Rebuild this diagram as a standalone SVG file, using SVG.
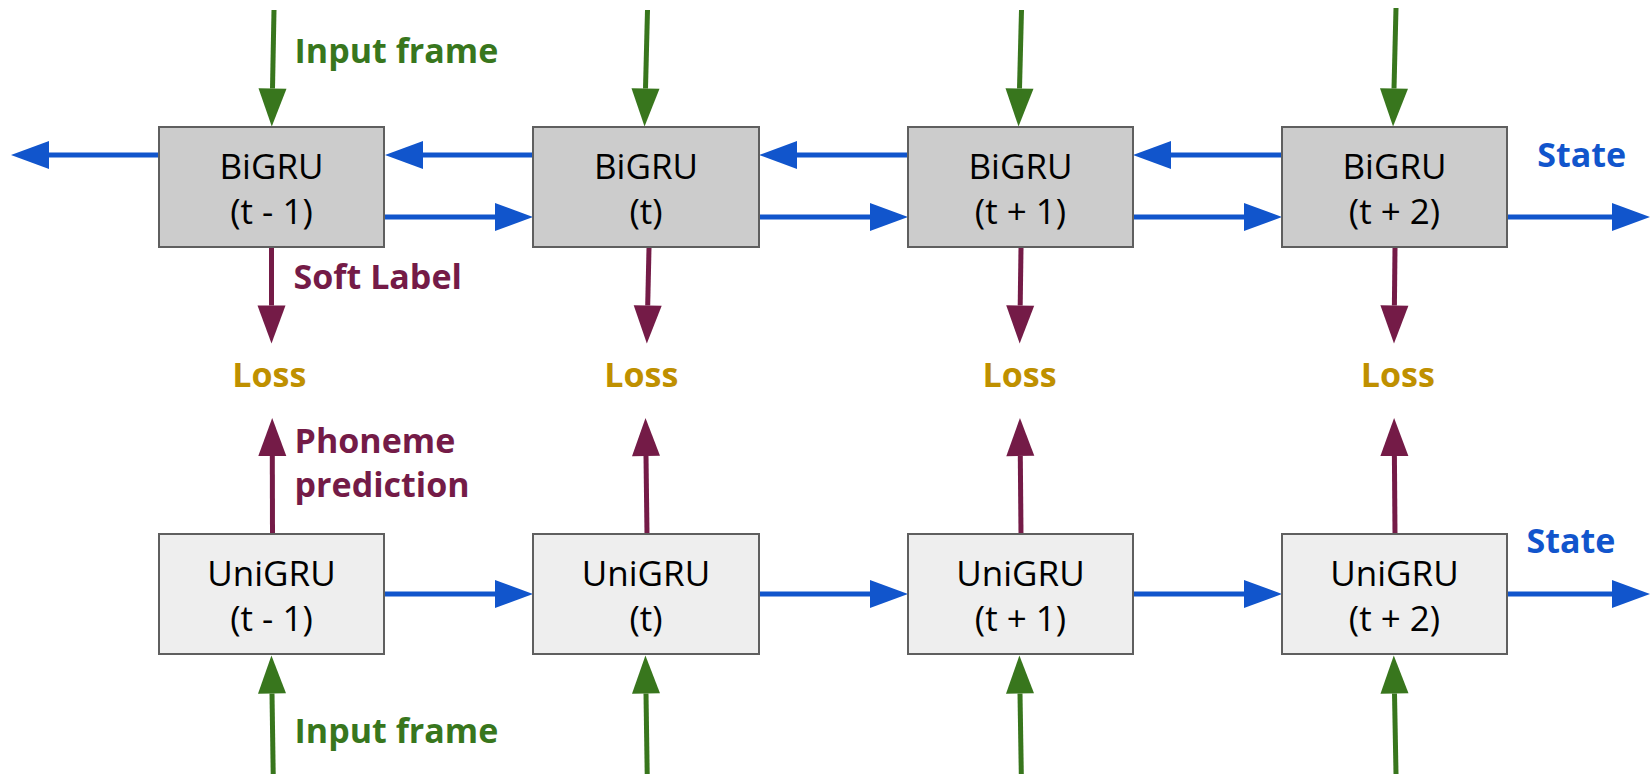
<svg xmlns="http://www.w3.org/2000/svg" width="1652" height="774" viewBox="0 0 1652 774">
  <style>
    .box-bi { fill: #cccccc; stroke: #5f5f5f; stroke-width: 2; }
    .box-uni { fill: #eeeeee; stroke: #5f5f5f; stroke-width: 2; }
    .cell { font-family: "Open Sans", "Noto Sans", sans-serif; font-size: 35px; fill: #000000; text-anchor: middle; }
    .lbl { font-family: "Open Sans", "Noto Sans", sans-serif; font-size: 34px; font-weight: bold; }
    .green { fill: #38761d; }
    .purple { fill: #741b47; }
    .blue { fill: #1155cc; }
    .gold { fill: #bf9000; }
    .ln-blue { stroke: #1155cc; stroke-width: 5; fill: none; marker-end: url(#ah-blue); }
    .ln-green { stroke: #38761d; stroke-width: 5; fill: none; marker-end: url(#ah-green); }
    .ln-purple { stroke: #741b47; stroke-width: 5; fill: none; marker-end: url(#ah-purple); }
  </style>
  <defs>
    <marker id="ah-blue" markerUnits="userSpaceOnUse" markerWidth="38" markerHeight="28" refX="0" refY="14" orient="auto" overflow="visible">
      <path d="M0,0 L38,14 L0,28 Z" fill="#1155cc"/>
    </marker>
    <marker id="ah-green" markerUnits="userSpaceOnUse" markerWidth="38" markerHeight="28" refX="0" refY="14" orient="auto" overflow="visible">
      <path d="M0,0 L38,14 L0,28 Z" fill="#38761d"/>
    </marker>
    <marker id="ah-purple" markerUnits="userSpaceOnUse" markerWidth="38" markerHeight="28" refX="0" refY="14" orient="auto" overflow="visible">
      <path d="M0,0 L38,14 L0,28 Z" fill="#741b47"/>
    </marker>
  </defs>

  <!-- connectors -->
  <g id="connectors">
    <!-- input frames into the BiGRU row -->
    <path class="ln-green" d="M274,10 L272.5,88.5"/>
    <path class="ln-green" d="M647.5,10 L645.5,88.5"/>
    <path class="ln-green" d="M1021.5,10 L1019.5,88.5"/>
    <path class="ln-green" d="M1396,8 L1394,88.5"/>
    <!-- backward state (right to left) -->
    <path class="ln-blue" d="M159,155 L49,155"/>
    <path class="ln-blue" d="M533,155 L423,155"/>
    <path class="ln-blue" d="M908,155 L797,155"/>
    <path class="ln-blue" d="M1282,155 L1171,155"/>
    <!-- forward state (left to right) -->
    <path class="ln-blue" d="M385,217 L495,217"/>
    <path class="ln-blue" d="M759,217 L870,217"/>
    <path class="ln-blue" d="M1133,217 L1244,217"/>
    <path class="ln-blue" d="M1507,217 L1612,217"/>
    <!-- soft labels down to the loss -->
    <path class="ln-purple" d="M271.5,248 L271.5,305.5"/>
    <path class="ln-purple" d="M649,248 L647.7,305.5"/>
    <path class="ln-purple" d="M1021,248 L1020.2,305.5"/>
    <path class="ln-purple" d="M1395,248 L1394.4,305.5"/>
    <!-- phoneme predictions up to the loss -->
    <path class="ln-purple" d="M272.5,534 L272.3,456"/>
    <path class="ln-purple" d="M647,534 L646,456"/>
    <path class="ln-purple" d="M1021,534 L1020.3,456"/>
    <path class="ln-purple" d="M1395,534 L1394.4,456"/>
    <!-- UniGRU forward state -->
    <path class="ln-blue" d="M385,594 L495,594"/>
    <path class="ln-blue" d="M759,594 L870,594"/>
    <path class="ln-blue" d="M1133,594 L1244,594"/>
    <path class="ln-blue" d="M1507,594 L1612,594"/>
    <!-- input frames into the UniGRU row -->
    <path class="ln-green" d="M273.2,774 L272,693.5"/>
    <path class="ln-green" d="M647.2,774 L646,693.5"/>
    <path class="ln-green" d="M1021.3,774 L1020,693.5"/>
    <path class="ln-green" d="M1396,774 L1394.5,693.5"/>
  </g>

  <!-- BiGRU row -->
  <g id="bigru-t-1">
    <rect class="box-bi" x="159" y="127" width="225" height="120"/>
    <text class="cell"><tspan x="271.5" y="178.5">BiGRU</tspan><tspan x="271.5" y="223.5">(t - 1)</tspan></text>
  </g>
  <g id="bigru-t">
    <rect class="box-bi" x="533" y="127" width="226" height="120"/>
    <text class="cell"><tspan x="646" y="178.5">BiGRU</tspan><tspan x="646" y="223.5">(t)</tspan></text>
  </g>
  <g id="bigru-t+1">
    <rect class="box-bi" x="908" y="127" width="225" height="120"/>
    <text class="cell"><tspan x="1020.5" y="178.5">BiGRU</tspan><tspan x="1020.5" y="223.5">(t + 1)</tspan></text>
  </g>
  <g id="bigru-t+2">
    <rect class="box-bi" x="1282" y="127" width="225" height="120"/>
    <text class="cell"><tspan x="1394.5" y="178.5">BiGRU</tspan><tspan x="1394.5" y="223.5">(t + 2)</tspan></text>
  </g>

  <!-- UniGRU row -->
  <g id="unigru-t-1">
    <rect class="box-uni" x="159" y="534" width="225" height="120"/>
    <text class="cell"><tspan x="271.5" y="585.5">UniGRU</tspan><tspan x="271.5" y="630.5">(t - 1)</tspan></text>
  </g>
  <g id="unigru-t">
    <rect class="box-uni" x="533" y="534" width="226" height="120"/>
    <text class="cell"><tspan x="646" y="585.5">UniGRU</tspan><tspan x="646" y="630.5">(t)</tspan></text>
  </g>
  <g id="unigru-t+1">
    <rect class="box-uni" x="908" y="534" width="225" height="120"/>
    <text class="cell"><tspan x="1020.5" y="585.5">UniGRU</tspan><tspan x="1020.5" y="630.5">(t + 1)</tspan></text>
  </g>
  <g id="unigru-t+2">
    <rect class="box-uni" x="1282" y="534" width="225" height="120"/>
    <text class="cell"><tspan x="1394.5" y="585.5">UniGRU</tspan><tspan x="1394.5" y="630.5">(t + 2)</tspan></text>
  </g>

  <!-- loss points -->
  <g id="loss-t-1"><text class="lbl gold" x="269.3" y="387" text-anchor="middle">Loss</text></g>
  <g id="loss-t"><text class="lbl gold" x="641.4" y="387" text-anchor="middle">Loss</text></g>
  <g id="loss-t+1"><text class="lbl gold" x="1019.5" y="387" text-anchor="middle">Loss</text></g>
  <g id="loss-t+2"><text class="lbl gold" x="1397.9" y="387" text-anchor="middle">Loss</text></g>

  <!-- annotations -->
  <g id="labels">
    <text class="lbl green" x="294.6" y="62.7">Input frame</text>
    <text class="lbl purple" x="293.6" y="289.3">Soft Label</text>
    <text class="lbl purple"><tspan x="294.6" y="453.3">Phoneme</tspan><tspan x="294.6" y="496.7">prediction</tspan></text>
    <text class="lbl green" x="294.6" y="743.3">Input frame</text>
    <text class="lbl blue" x="1537.3" y="166.7">State</text>
    <text class="lbl blue" x="1526.5" y="553.3">State</text>
  </g>
</svg>
